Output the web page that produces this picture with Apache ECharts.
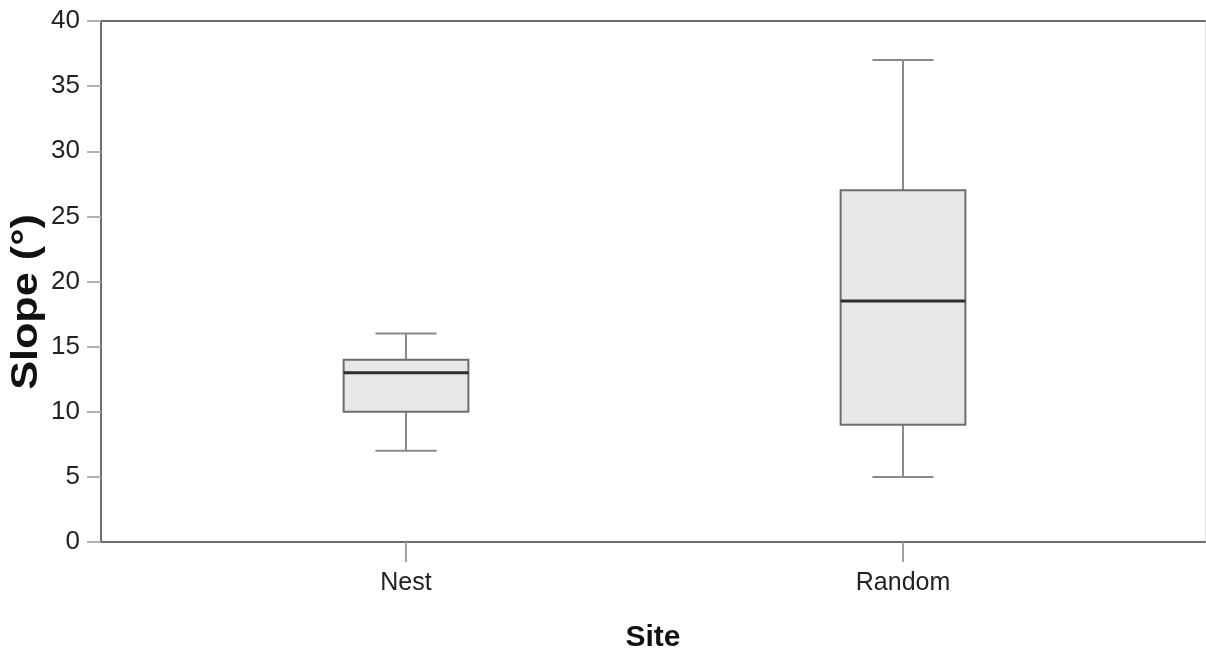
<!DOCTYPE html>
<html>
<head>
<meta charset="utf-8">
<script src="https://cdn.jsdelivr.net/npm/echarts@6/dist/echarts.min.js"></script>
<style>
html,body{margin:0;padding:0;background:#fff;}
#chart{width:1206px;height:657px;}
</style>
</head>
<body>
<div id="chart"></div>
<script>
const categories = ['Nest', 'Random'];
const whiskerLow = [7, 5];
const quartile1 = [10, 9];
const medians = [13, 18.5];
const quartile3 = [14, 27];
const whiskerHigh = [16, 37];
const yTicks = [0, 5, 10, 15, 20, 25, 30, 35, 40];
const xTitle = 'Site';
const yTitle = 'Slope (°)';

const seriesData = categories.map((c, i) => [i, whiskerLow[i], quartile1[i], medians[i], quartile3[i], whiskerHigh[i]]);

const FONT = '"Liberation Sans", Arial, sans-serif';

function renderItem(params, api) {
  const x = api.value(0);
  const lo = api.coord([x, api.value(1)]);
  const q1 = api.coord([x, api.value(2)]);
  const md = api.coord([x, api.value(3)]);
  const q3 = api.coord([x, api.value(4)]);
  const hi = api.coord([x, api.value(5)]);
  const unit = api.size([1, 0])[0];
  const bw = unit * 0.251;
  const cw = unit * 0.123;
  const cx = lo[0];
  const wStyle = { stroke: '#8a8a8a', lineWidth: 2 };
  return {
    type: 'group',
    children: [
      { type: 'line', shape: { x1: cx, y1: hi[1], x2: cx, y2: q3[1] }, style: wStyle },
      { type: 'line', shape: { x1: cx, y1: q1[1], x2: cx, y2: lo[1] }, style: wStyle },
      { type: 'line', shape: { x1: cx - cw / 2, y1: hi[1], x2: cx + cw / 2, y2: hi[1] }, style: wStyle },
      { type: 'line', shape: { x1: cx - cw / 2, y1: lo[1], x2: cx + cw / 2, y2: lo[1] }, style: wStyle },
      { type: 'rect', shape: { x: cx - bw / 2, y: q3[1], width: bw, height: q1[1] - q3[1] },
        style: { fill: '#e7e6e9', stroke: '#6e6e6e', lineWidth: 2 } },
      { type: 'line', shape: { x1: cx - bw / 2, y1: md[1], x2: cx + bw / 2, y2: md[1] },
        style: { stroke: '#2e2e2e', lineWidth: 3 } }
    ]
  };
}

const chart = echarts.init(document.getElementById('chart'));
chart.setOption({
  animation: false,
  backgroundColor: '#ffffff',
  grid: { left: 101, right: 1, top: 21, bottom: 115, containLabel: false, outerBoundsMode: 'none' },
  graphic: [{
    type: 'text',
    x: 27, y: 302,
    rotation: Math.PI / 2,
    scaleX: 1.2,
    style: {
      text: yTitle,
      fontFamily: FONT, fontWeight: 'bold', fontSize: 36, fill: '#111',
      align: 'center', verticalAlign: 'middle'
    }
  }],
  xAxis: [{
    type: 'value',
    min: -0.6137,
    max: 1.6076,
    position: 'bottom',
    name: xTitle,
    nameLocation: 'middle',
    nameGap: 81,
    nameTextStyle: { fontFamily: FONT, fontWeight: 'bold', fontSize: 30, color: '#111' },
    splitLine: { show: false },
    axisLine: { show: true, onZero: false, lineStyle: { color: '#6e6e6e', width: 2 } },
    axisTick: { show: true, customValues: [0, 1], length: 20, lineStyle: { color: '#a0a0a0', width: 2 } },
    axisLabel: {
      customValues: [0, 1],
      formatter: v => categories[Math.round(v)] || '',
      margin: 29,
      fontFamily: FONT, fontSize: 25, color: '#222'
    }
  }, {
    type: 'value', min: -0.6137, max: 1.6076, position: 'top',
    axisLine: { show: true, onZero: false, lineStyle: { color: '#6e6e6e', width: 2 } },
    axisTick: { show: false }, axisLabel: { show: false }, splitLine: { show: false }
  }],
  yAxis: [{
    type: 'value',
    min: 0,
    max: 40,
    interval: 5,
    splitLine: { show: false },
    axisLine: { show: true, onZero: false, lineStyle: { color: '#6e6e6e', width: 2 } },
    axisTick: { show: true, length: 14, lineStyle: { color: '#b0b0b0', width: 2 } },
    axisLabel: { margin: 21, fontFamily: FONT, fontSize: 26, color: '#222',
      formatter: v => yTicks.includes(v) ? String(v) : '' }
  }, {
    type: 'value', min: 0, max: 40, position: 'right',
    axisLine: { show: true, onZero: false, lineStyle: { color: '#dddddd', width: 1 } },
    axisTick: { show: false }, axisLabel: { show: false }, splitLine: { show: false }
  }],
  series: [{
    type: 'custom',
    renderItem: renderItem,
    encode: { x: 0, y: [1, 2, 3, 4, 5] },
    data: seriesData
  }]
});
</script>
</body>
</html>
